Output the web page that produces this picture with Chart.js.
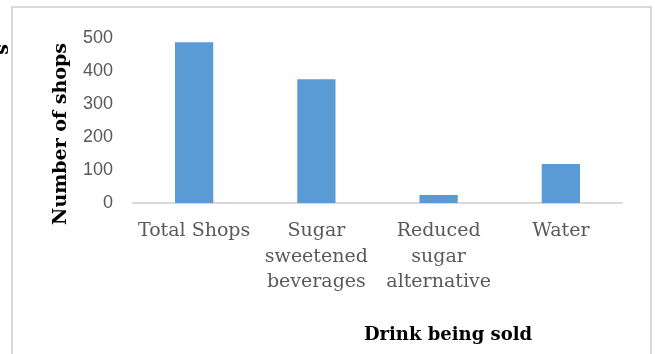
<!DOCTYPE html>
<html>
<head>
<meta charset="utf-8">
<script src="https://cdn.jsdelivr.net/npm/chart.js@4"></script>
<style>
  html, body { margin: 0; padding: 0; background: #ffffff; }
  #wrap { width: 655px; height: 354px; position: relative; }
</style>
</head>
<body>
<div id="wrap"><canvas id="shopChart"></canvas></div>
<script>
const categories = [
  "Total Shops",
  ["Sugar", "sweetened", "beverages"],
  ["Reduced", "sugar", "alternative"],
  "Water",
];
const shopCounts = [487, 375, 24, 118];
const yTicks = [0, 100, 200, 300, 400, 500];

const serifFont = "'DejaVu Serif', serif";
const sansFont = "'Liberation Sans', Arial, sans-serif";

// frame, axis titles and the cut-off label of the neighbouring chart
const extrasPlugin = {
  id: "extras",
  beforeDraw(chart) {
    const ctx = chart.ctx;
    ctx.save();
    ctx.fillStyle = "#ffffff";
    ctx.fillRect(0, 0, chart.width, chart.height);
    ctx.strokeStyle = "#d9d9d9";
    ctx.lineWidth = 2;
    ctx.strokeRect(12, 7, 639, 360);
    ctx.restore();
  },
  afterDraw(chart) {
    const ctx = chart.ctx;
    ctx.save();
    ctx.fillStyle = "#000000";
    ctx.font = "bold 18px " + serifFont;
    ctx.textAlign = "center";
    ctx.textBaseline = "middle";
    ctx.fillText("Drink being sold", 448, 335);
    ctx.restore();

    ctx.save();
    ctx.fillStyle = "#000000";
    ctx.font = "bold 19px " + serifFont;
    ctx.translate(61, 134);
    ctx.rotate(-Math.PI / 2);
    ctx.textAlign = "center";
    ctx.textBaseline = "middle";
    ctx.fillText("Number of shops", 0, 0);
    ctx.restore();

    // last letter of the neighbouring chart's axis title, cut by the edge
    ctx.save();
    ctx.fillStyle = "#000000";
    ctx.font = "bold 19px " + serifFont;
    ctx.translate(8, 44);
    ctx.rotate(-Math.PI / 2);
    ctx.textAlign = "right";
    ctx.textBaseline = "alphabetic";
    ctx.fillText("s", 0, 0);
    ctx.restore();
  },
};

const ctx = document.getElementById("shopChart").getContext("2d");
const shopChart = new Chart(ctx, {
  type: "bar",
  data: {
    labels: categories,
    datasets: [
      {
        label: "Number of shops",
        data: shopCounts,
        backgroundColor: "#5b9bd5",
        borderWidth: 0,
        barPercentage: 0.313,
        categoryPercentage: 1,
      },
    ],
  },
  options: {
    responsive: true,
    maintainAspectRatio: false,
    animation: false,
    layout: {
      padding: { top: 38, right: 33, bottom: 0, left: 0 },
    },
    plugins: {
      legend: { display: false },
      tooltip: { enabled: false },
    },
    scales: {
      x: {
        grid: { display: false, drawTicks: false },
        border: { display: true, color: "#d9d9d9", width: 2 },
        ticks: {
          color: "#595959",
          font: { family: serifFont, size: 19, lineHeight: 1.32 },
          padding: 16,
          maxRotation: 0,
          autoSkip: false,
        },
        afterFit(scale) {
          scale.height = 151;
        },
      },
      y: {
        min: 0,
        max: 500,
        afterBuildTicks(scale) {
          scale.ticks = yTicks.map((v) => ({ value: v }));
        },
        grid: { display: false, drawTicks: false },
        border: { display: false },
        ticks: {
          color: "#595959",
          font: { family: sansFont, size: 18 },
          padding: 20,
        },
        afterFit(scale) {
          scale.width = 133;
        },
      },
    },
  },
  plugins: [extrasPlugin],
});
</script>
</body>
</html>
